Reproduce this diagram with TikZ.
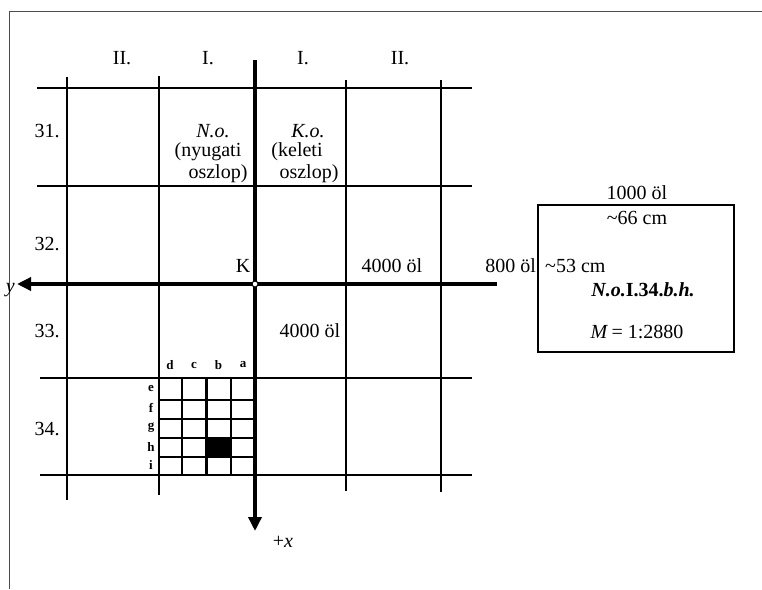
\documentclass[tikz,border=0pt]{standalone}
\usepackage{fontspec}
\setmainfont{Liberation Serif}
\usetikzlibrary{arrows.meta}
\tikzset{
  grid/.style={line width=2.8pt},
  axis/.style={line width=3.4pt},
  sub/.style={line width=2.3pt},
  frame/.style={line width=1pt, draw=black!70},
  lbl/.style={font=\fontsize{20}{22}\selectfont, inner sep=0pt},
  small/.style={font=\fontsize{13}{14}\selectfont\bfseries, inner sep=0pt},
  tip/.style={-{Triangle[length=14pt,width=13pt]}}
}
\begin{document}
\begin{tikzpicture}[x=1pt,y=-1pt]
\useasboundingbox (0,0) rectangle (762,589);
% frame
\draw[frame] (9.5,589) -- (9.5,11) -- (762,11);
% horizontal grid lines
\draw[grid] (37,88) -- (472,88);
\draw[grid] (37,186) -- (472,186);
\draw[grid] (40,378) -- (472,378);
\draw[grid] (40,475) -- (472,475);
% vertical grid lines
\draw[grid] (67,77) -- (67,500);
\draw[grid] (159,76) -- (159,495);
\draw[grid] (346,80) -- (346,491);
\draw[grid] (441,80) -- (441,492);
% axes
\coordinate (yend) at (17,284);
\coordinate (ystart) at (497,284);
\coordinate (xstart) at (255,60);
\coordinate (xend) at (255,531);
\draw[axis,tip] (ystart) -- (yend);
\draw[axis,tip] (xstart) -- (xend);
% sub grid
\foreach \xx in {182,206.5,231} \draw[sub] (\xx,378) -- (\xx,475);
\foreach \yy in {400,419,438,457} \draw[sub] (159,\yy) -- (255,\yy);
\fill (206.5,438) rectangle (231,457);
% origin
\node[circle, draw, fill=white, line width=1pt, inner sep=0pt, minimum size=6pt] (K) at (255,284) {};
% column labels
\node[lbl] (c1) at (122,58) {II.};
\node[lbl] (c2) at (208,58) {I.};
\node[lbl] (c3) at (303,58) {I.};
\node[lbl] (c4) at (400,58) {II.};
% row labels
\node[lbl] (r31) at (47,131) {31.};
\node[lbl] (r32) at (47,244) {32.};
\node[lbl] (r33) at (47,331) {33.};
\node[lbl] (r34) at (47,429) {34.};
% column names
\node[lbl] (no) at (213,131) {\textit{N.o.}};
\node[lbl] (ny) at (208,152) {(nyugati};
\node[lbl] (os1) at (218,174) {oszlop)};
\node[lbl] (ko) at (308,131) {\textit{K.o.}};
\node[lbl] (ke) at (297,152) {(keleti};
\node[lbl] (os2) at (309,174) {oszlop)};
% other labels
\node[lbl] (Klbl) at (243,266) {K};
\node[lbl] (d1) at (392,266) {4000 öl};
\node[lbl] (d2) at (310,331) {4000 öl};
\node[lbl, anchor=east] (d3) at (536,266) {800 öl};
\node[lbl, anchor=west] (d4) at (545,266) {\textasciitilde53 cm};
\node[lbl] (xl) at (283,542) {+\textit{x}};
\node[lbl, anchor=east] (yl) at (15,290) {\textit{y}};
% sub labels
\foreach \t/\xx in {d/170,c/194,b/218.5,a/243} \node[small] (s\t) at (\xx,365) {\t};
\foreach \t/\yy in {e/388,f/408,g/428,h/447,i/465} \node[small] (s\t) at (151,\yy) {\t};
% map sheet box
\draw[line width=2.4pt] (538,205) rectangle (734,352);
\node[lbl] (b1) at (637,193) {1000 öl};
\node[lbl] (b2) at (637,218) {\textasciitilde66 cm};
\node[lbl] (b3) at (643,290) {\bfseries\textit{N.o.}I.34.\textit{b.h.}};
\node[lbl] (b4) at (637,332) {\textit{M}\,= 1:2880};
\end{tikzpicture}
\end{document}
